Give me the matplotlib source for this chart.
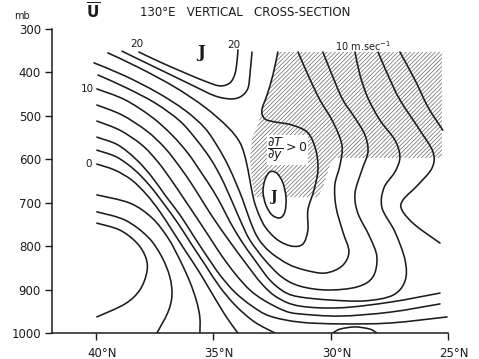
import matplotlib
matplotlib.use('Agg')
from matplotlib import pyplot as plt
from matplotlib.path import Path
from matplotlib.patches import PathPatch
from matplotlib.transforms import ScaledTranslation

# Isotachs of mean zonal wind: latitude (deg N), pressure (mb) #
U20_LAT = [38.17, 37.27, 36.21, 35.36, 34.72, 34.29, 34.08, 33.99, 33.95]
U20_P = [353, 376, 401, 420, 431, 424, 404, 376, 348]

U18_LAT = [38.89, 38.13, 37.06, 35.99, 34.93, 34.21, 33.78, 33.52, 33.44, 33.35]
U18_P = [351, 371, 399, 427, 454, 461, 454, 436, 406, 353]

U16_LAT = [39.49, 38.13, 36.63, 35.36, 34.38, 33.86, 33.61, 33.44, 33.27, 33.05,
           32.76, 32.25, 31.65, 31.18, 30.97, 30.97, 30.71, 30.54, 30.63, 30.97,
           31.65, 32.37, 32.80, 32.93, 32.71, 32.46, 32.25]
U16_P = [355, 390, 434, 480, 526, 562, 602, 648, 694, 728,
         758, 786, 800, 795, 763, 717, 671, 625, 579, 539,
         521, 514, 507, 487, 452, 406, 353]

U14_LAT = [40.08, 38.76, 37.36, 36.21, 35.36, 34.80, 34.38, 34.03, 33.74, 33.44,
           33.10, 32.59, 31.82, 31.10, 30.24, 29.52, 29.22, 29.48, 29.77, 29.82,
           29.60, 29.52, 29.90, 30.46, 30.92, 31.39]
U14_P = [378, 408, 447, 487, 528, 572, 613, 655, 694, 740,
         781, 813, 841, 855, 862, 846, 813, 767, 710, 659,
         613, 567, 514, 463, 411, 353]

U12_LAT = [39.91, 38.76, 37.49, 36.42, 35.70, 35.14, 34.72, 34.38, 34.08, 33.82,
           33.44, 32.80, 32.08, 31.31, 30.16, 28.88, 28.20, 28.03, 28.33, 28.84,
           28.96, 28.67, 28.41, 28.54, 28.96, 29.48, 29.90, 30.33]
U12_P = [406, 434, 470, 512, 556, 597, 636, 675, 712, 744,
         786, 832, 871, 892, 901, 894, 871, 825, 779, 724,
         678, 625, 583, 544, 505, 463, 411, 353]

U10_LAT = [39.96, 38.76, 37.61, 36.76, 36.08, 35.53, 35.02, 34.63, 34.29, 33.78,
           33.23, 32.59, 31.95, 31.31, 30.03, 28.54, 27.35, 26.83, 26.83, 27.26,
           27.81, 27.73, 27.26, 27.05, 27.26, 27.90, 28.41, 28.75, 28.96]
U10_P = [438, 463, 503, 544, 586, 629, 671, 708, 744, 790,
         832, 878, 906, 917, 924, 926, 913, 880, 832, 767,
         712, 666, 629, 595, 556, 510, 459, 406, 353]

U8_TOP_LAT = [27.98, 27.56, 27.05, 26.20, 25.64, 25.68, 26.28, 26.92, 26.96, 26.41, 25.34]
U8_TOP_P = [353, 406, 463, 533, 583, 620, 659, 694, 717, 751, 793]

U8_LAT = [39.96, 38.89, 37.83, 37.06, 36.42, 35.87, 35.36, 34.89, 34.29, 33.65,
          32.93, 32.25, 31.31, 29.60, 27.47, 25.34]
U8_P = [475, 498, 535, 574, 618, 661, 705, 744, 790, 837,
        887, 919, 938, 942, 929, 908]

U6_TOP_LAT = [27.05, 26.41, 25.85, 25.22]
U6_TOP_P = [353, 417, 480, 533]

U6_LAT = [39.96, 38.98, 38.04, 37.36, 36.76, 36.21, 35.70, 35.14, 34.63, 34.03,
          33.44, 32.80, 31.95, 31.31, 29.60, 27.47, 25.34]
U6_P = [512, 533, 567, 606, 650, 694, 735, 781, 823, 866,
        901, 926, 949, 956, 961, 952, 933]

U4_LAT = [39.96, 39.06, 38.25, 37.61, 37.02, 36.42, 35.87, 35.31, 34.72, 34.08,
          33.35, 32.59, 31.31, 29.60, 27.47, 25.04]
U4_P = [549, 567, 602, 641, 685, 728, 774, 820, 866, 906,
        938, 961, 975, 979, 977, 963]

U2_LAT = [39.96, 39.11, 38.34, 37.70, 37.10, 36.51, 35.91, 35.31, 34.72, 34.03, 33.23, 32.37]
U2_P = [579, 595, 625, 661, 703, 747, 797, 846, 894, 938, 975, 1000]

U0_LAT = [39.96, 39.19, 38.47, 37.83, 37.27, 36.76, 36.21, 35.65, 35.14, 34.63, 34.29, 33.95]
U0_P = [611, 625, 648, 682, 721, 763, 809, 855, 901, 947, 975, 1000]

UM2_LAT = [39.96, 38.55, 37.61, 36.93, 36.42, 35.99, 35.70, 35.57, 35.57]
UM2_P = [682, 701, 735, 781, 832, 883, 929, 965, 1000]

UM4_LAT = [39.96, 38.76, 37.78, 37.19, 36.85, 36.76, 36.93, 37.40]
UM4_P = [721, 740, 779, 825, 871, 913, 952, 1000]

UM6_LAT = [39.96, 38.98, 38.25, 37.87, 37.83, 38.13, 38.76, 39.96]
UM6_P = [747, 763, 793, 827, 860, 901, 933, 963]

# Low level jet core (closed) and the small bump at the ground #
CORE_LAT = [32.59, 32.80, 32.88, 32.76, 32.50, 32.16, 31.95, 31.90, 32.03, 32.29]
CORE_P = [629, 648, 675, 705, 728, 735, 721, 689, 655, 632]

DOME_LAT = [29.90, 29.60, 28.96, 28.33, 28.03]
DOME_P = [1000, 991, 986, 991, 1000]

# Region where dT/dy > 0 #
HATCH_LAT = [32.25, 32.46, 32.71, 32.93, 33.10, 33.35, 33.44, 33.35, 33.23, 30.54,
             30.29, 30.03, 29.77, 25.26, 25.26]
HATCH_P = [353, 406, 452, 487, 521, 551, 602, 648, 687, 687,
           659, 613, 597, 597, 353]

P_TICKS = [300, 400, 500, 600, 700, 800, 900, 1000]
LAT_TICKS = [40, 35, 30, 25]
LAT_LABELS = ['40°N', '35°N', '30°N', '25°N']

INK = '#1c1c1c'


# Smooth pen stroke through the read points (Bezier segments, Catmull-Rom style) #
def smooth_path(xs, ys, closed=False):
    pts = list(zip(xs, ys))
    n = len(pts)
    verts = [pts[0]]
    codes = [Path.MOVETO]
    last = n if closed else n - 1
    for i in range(last):
        if closed:
            p0, p1 = pts[(i - 1) % n], pts[i]
            p2, p3 = pts[(i + 1) % n], pts[(i + 2) % n]
        else:
            p0 = pts[max(i - 1, 0)]
            p1 = pts[i]
            p2 = pts[i + 1]
            p3 = pts[min(i + 2, n - 1)]
        c1 = (p1[0] + (p2[0] - p0[0]) / 6, p1[1] + (p2[1] - p0[1]) / 6)
        c2 = (p2[0] - (p3[0] - p1[0]) / 6, p2[1] - (p3[1] - p1[1]) / 6)
        verts += [c1, c2, p2]
        codes += [Path.CURVE4] * 3
    return Path(verts, codes)


def plot_section():
    plt.rcParams['hatch.linewidth'] = 0.5
    plt.rcParams['hatch.color'] = '#666666'

    fig = plt.figure(figsize=(4.79, 3.59), dpi=100)
    ax = fig.add_axes([52 / 479, 1 - 333 / 359, 396 / 479, 304 / 359])

    # Shaded region and the jet core cut out of it #
    ax.fill(HATCH_LAT, HATCH_P, facecolor='none', edgecolor='#666666',
            hatch='////////', linewidth=0, zorder=1)
    ax.add_patch(PathPatch(smooth_path(CORE_LAT, CORE_P, closed=True),
                           facecolor='white', linewidth=0, zorder=1.5))

    lines = [(U20_LAT, U20_P), (U18_LAT, U18_P), (U16_LAT, U16_P),
             (U14_LAT, U14_P), (U12_LAT, U12_P), (U10_LAT, U10_P),
             (U8_TOP_LAT, U8_TOP_P), (U8_LAT, U8_P),
             (U6_TOP_LAT, U6_TOP_P), (U6_LAT, U6_P),
             (U4_LAT, U4_P), (U2_LAT, U2_P), (U0_LAT, U0_P),
             (UM2_LAT, UM2_P), (UM4_LAT, UM4_P), (UM6_LAT, UM6_P),
             (DOME_LAT, DOME_P)]
    for lat, p in lines:
        ax.add_patch(PathPatch(smooth_path(lat, p), facecolor='none', edgecolor=INK,
                               linewidth=1.15, capstyle='round', zorder=2))
    ax.add_patch(PathPatch(smooth_path(CORE_LAT, CORE_P, closed=True), facecolor='none',
                           edgecolor=INK, linewidth=1.15, zorder=2))

    # Isotach labels #
    ax.text(38.25, 335, '20', fontsize=7.5, ha='center', va='center', color=INK)
    ax.text(34.12, 337, '20', fontsize=7.5, ha='center', va='center', color=INK)
    ax.text(40.38, 438, '10', fontsize=7.5, ha='center', va='center', color=INK)
    ax.text(40.30, 611, '0', fontsize=7.5, ha='center', va='center', color=INK)
    ax.text(28.62, 339, r'10 m.sec$^{-1}$', fontsize=7, ha='center', va='center', color=INK)
    ax.text(35.53, 353, 'J', fontsize=12, fontweight='bold', family='DejaVu Serif',
            ha='center', va='center', color=INK)
    ax.text(32.42, 687, 'J', fontsize=10, fontweight='bold', family='DejaVu Serif',
            ha='center', va='center', color=INK, zorder=3)
    ax.text(31.85, 578, r'$\dfrac{\partial T}{\partial y} > 0$', fontsize=9,
            ha='center', va='center', color=INK, zorder=3,
            bbox=dict(facecolor='white', edgecolor='none', pad=0.3))

    # Axes #
    ax.set_xlim(41.87, 25.0)
    ax.set_ylim(1000, 300)
    ax.set_yticks(P_TICKS)
    ax.set_yticklabels([str(p) for p in P_TICKS])
    ax.set_xticks(LAT_TICKS)
    ax.set_xticklabels(LAT_LABELS)
    for side in ['top', 'right']:
        ax.spines[side].set_visible(False)
    for side in ['left', 'bottom']:
        ax.spines[side].set_linewidth(1.1)
        ax.spines[side].set_color(INK)
    ax.tick_params(direction='out', length=5, width=1, colors=INK, labelsize=8.5, pad=3)
    ax.tick_params(axis='x', pad=5)
    shift = ScaledTranslation(6 / 100, 0, fig.dpi_scale_trans)
    for label in ax.get_xticklabels():
        label.set_transform(label.get_transform() + shift)

    # Titles #
    fig.text(22 / 479, 1 - 16 / 359, 'mb', fontsize=7, ha='center', va='center', color=INK)
    fig.text(93 / 479, 1 - 12 / 359, r'$\overline{\mathbf{U}}$', fontsize=11,
             ha='center', va='center', color=INK)
    fig.text(140 / 479, 1 - 13 / 359, '130°E   VERTICAL   CROSS-SECTION',
             fontsize=8.5, ha='left', va='center', color=INK)

    fig.savefig('out.png', dpi=100)


if __name__ == '__main__':
    plot_section()
